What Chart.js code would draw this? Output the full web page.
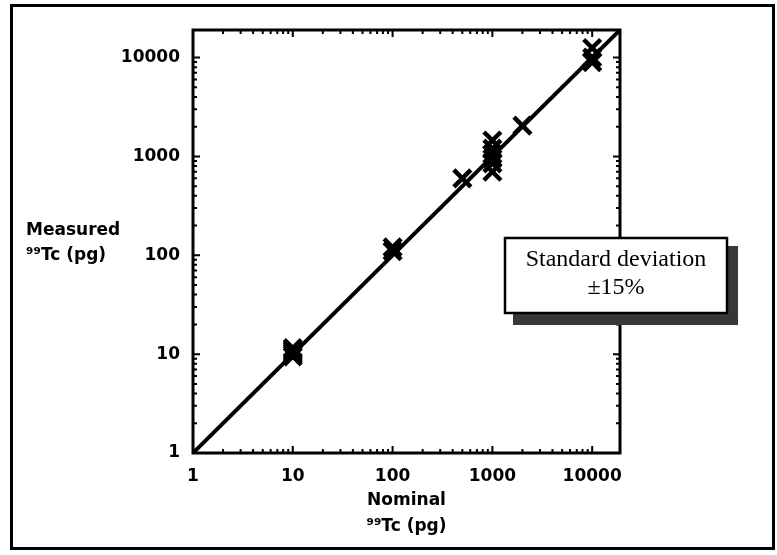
<!DOCTYPE html>
<html>
<head>
<meta charset="utf-8">
<script src="https://cdn.jsdelivr.net/npm/chart.js@4.4.1/dist/chart.umd.min.js"></script>
<style>
  html, body { margin: 0; padding: 0; background: #fff; }
  #wrap { width: 777px; height: 555px; }
</style>
</head>
<body>
<div id="wrap"><canvas id="c" width="777" height="555"></canvas></div>
<script>
// Labelled decades on both log axes
const decadeTicks = [1, 10, 100, 1000, 10000];
const axisMin = 1;
const axisMax = 19000;

// Nominal vs measured 99Tc amounts (pg)
const nominalPg  = [10, 10, 10, 10, 10, 100, 100, 500, 1000, 1000, 1000, 1000, 1000, 1000, 2000, 10000, 10000, 10000];
const measuredPg = [9.5, 10, 10.5, 11, 11.5, 110, 120, 600, 1450, 1200, 1050, 950, 850, 700, 2050, 12500, 10000, 9000];

// 1:1 reference line
const lineNominal  = [1, 19000];
const lineMeasured = [1, 19000];

const xTitleLines = ['Nominal', '\u2079\u2079Tc (pg)'];
const yTitleLines = ['Measured', '\u2079\u2079Tc (pg)'];
const noteLines = ['Standard deviation', '\u00b115%'];

const boldFont = '"DejaVu Sans", "Liberation Sans", Arial, sans-serif';

const points = nominalPg.map((x, i) => ({ x, y: measuredPg[i] }));
const linePts = lineNominal.map((x, i) => ({ x, y: lineMeasured[i] }));

// Frame, inward log ticks, axis titles and the note box
const decorations = {
  id: 'decorations',
  beforeDraw(chart) {
    const ctx = chart.ctx;
    ctx.save();
    ctx.fillStyle = '#fff';
    ctx.fillRect(0, 0, chart.width, chart.height);
    ctx.restore();
  },
  afterDraw(chart) {
    const ctx = chart.ctx;
    const a = chart.chartArea;
    const xs = chart.scales.x, ys = chart.scales.y;
    ctx.save();
    ctx.strokeStyle = '#000';
    ctx.fillStyle = '#000';

    // outer border
    ctx.lineWidth = 3;
    ctx.strokeRect(11.5, 5.5, 762, 543);

    // plot frame
    ctx.lineWidth = 3;
    ctx.strokeRect(a.left, a.top, a.right - a.left, a.bottom - a.top);

    // inward tick marks on all four sides
    ctx.lineWidth = 2;
    ctx.beginPath();
    for (let k = 0; k <= 4; k++) {
      for (let m = 1; m <= 9; m++) {
        const v = m * Math.pow(10, k);
        if (v < axisMin || v > axisMax) continue;
        const len = m === 1 ? 7 : 4;
        const px = xs.getPixelForValue(v);
        const py = ys.getPixelForValue(v);
        ctx.moveTo(px, a.bottom); ctx.lineTo(px, a.bottom - len);
        ctx.moveTo(px, a.top);    ctx.lineTo(px, a.top + len);
        ctx.moveTo(a.left, py);   ctx.lineTo(a.left + len, py);
        ctx.moveTo(a.right, py);  ctx.lineTo(a.right - len, py);
      }
    }
    ctx.stroke();

    // axis titles
    ctx.font = 'bold 17px ' + boldFont;
    ctx.textBaseline = 'middle';
    ctx.textAlign = 'center';
    const cx = (a.left + a.right) / 2;
    ctx.fillText(xTitleLines[0], cx, 501);
    ctx.fillText(xTitleLines[1], cx, 527);
    ctx.textAlign = 'left';
    ctx.fillText(yTitleLines[0], 26, 231);
    ctx.fillText(yTitleLines[1], 26, 256);

    // note box with dark drop shadow
    const bx = 505, by = 238, bw = 222, bh = 75;
    ctx.fillStyle = '#383838';
    ctx.fillRect(bx + 8, by + 8, bw + 3, bh + 4);
    ctx.fillStyle = '#fff';
    ctx.fillRect(bx, by, bw, bh);
    ctx.lineWidth = 2.5;
    ctx.strokeStyle = '#000';
    ctx.strokeRect(bx, by, bw, bh);
    ctx.fillStyle = '#000';
    ctx.textAlign = 'center';
    ctx.font = '24px "Liberation Serif", "Times New Roman", serif';
    ctx.fillText(noteLines[0], bx + bw / 2, by + 22);
    ctx.fillText(noteLines[1], bx + bw / 2, by + 50);
    ctx.restore();
  }
};

const powersOnly = (scale) => {
  scale.ticks = decadeTicks.map(v => ({ value: v }));
};

new Chart(document.getElementById('c'), {
  type: 'scatter',
  data: {
    datasets: [
      {
        type: 'line',
        data: linePts,
        borderColor: '#000',
        borderWidth: 4,
        pointRadius: 0,
        fill: false,
        order: 2
      },
      {
        data: points,
        pointStyle: 'crossRot',
        pointRadius: 12,
        pointBorderWidth: 4.5,
        borderColor: '#000',
        backgroundColor: '#000',
        order: 1
      }
    ]
  },
  options: {
    responsive: false,
    animation: false,
    layout: { padding: { top: 30, right: 157, bottom: 0, left: 0 } },
    plugins: { legend: { display: false }, tooltip: { enabled: false } },
    scales: {
      x: {
        type: 'logarithmic',
        min: axisMin,
        max: axisMax,
        afterBuildTicks: powersOnly,
        afterFit: (s) => { s.height = 102; },
        grid: { display: false, drawTicks: false },
        border: { display: false },
        ticks: {
          autoSkip: false,
          maxRotation: 0,
          padding: 13,
          color: '#000',
          font: { family: boldFont, size: 17, weight: 'bold' },
          callback: (v) => String(v)
        }
      },
      y: {
        type: 'logarithmic',
        min: axisMin,
        max: axisMax,
        afterBuildTicks: powersOnly,
        afterFit: (s) => { s.width = 193; },
        grid: { display: false, drawTicks: false },
        border: { display: false },
        ticks: {
          autoSkip: false,
          padding: 13,
          color: '#000',
          font: { family: boldFont, size: 17, weight: 'bold' },
          callback: (v) => String(v)
        }
      }
    }
  },
  plugins: [decorations]
});
</script>
</body>
</html>
